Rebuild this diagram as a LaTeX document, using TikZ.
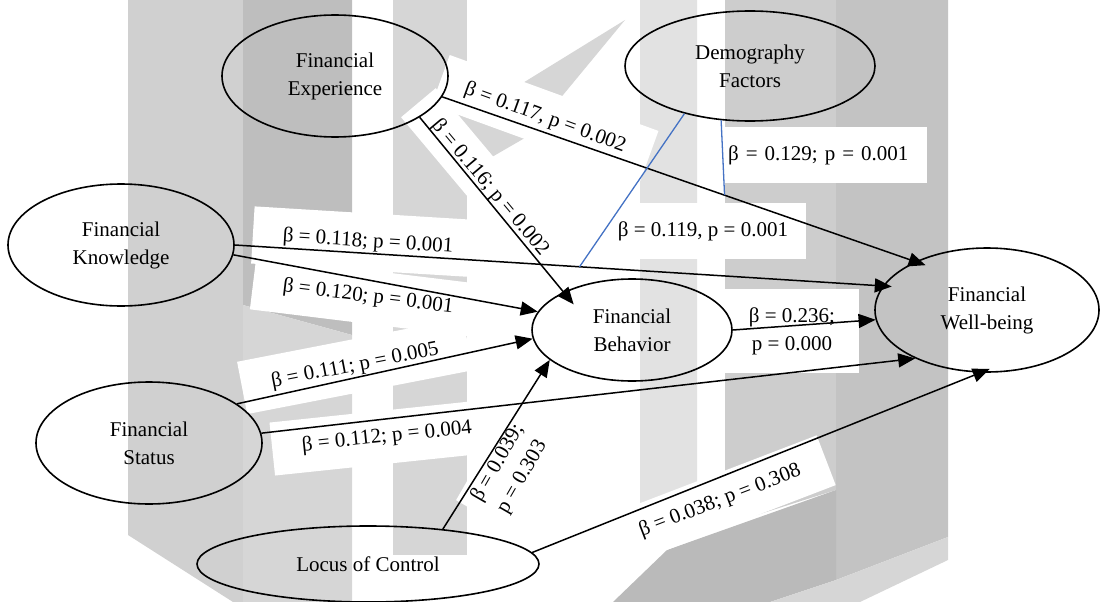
\documentclass[tikz,border=0pt]{standalone}
\usepackage{fontspec}
\setmainfont{Liberation Serif}
\usetikzlibrary{arrows.meta,shapes.geometric}
\definecolor{bluel}{HTML}{4472C4}
\definecolor{gA}{HTML}{D0D0D0}
\definecolor{gB}{HTML}{BEBEBE}
\definecolor{gC}{HTML}{D6D6D6}
\definecolor{gD}{HTML}{E2E2E2}
\definecolor{gE}{HTML}{CDCDCD}
\definecolor{gF}{HTML}{C3C3C3}
\definecolor{gG}{HTML}{BABABA}
\newcommand{\diagfont}{\fontsize{21}{28}\selectfont}
\begin{document}
\begin{tikzpicture}[x=1pt,y=-1pt,
  ell/.style={ellipse, draw=black, line width=1.6pt, inner sep=0pt, align=center, font=\diagfont},
  lab/.style={fill=white, inner xsep=26pt, inner ysep=17pt, font=\diagfont, align=center},
  arr/.style={line width=1.5pt, -{Triangle[length=17pt,width=14pt]}},
  blu/.style={line width=1.3pt, draw=bluel}]
\useasboundingbox (0,0) rectangle (1101,602);
% ---- watermark background ----
\fill[gA] (128,0) -- (243,0) -- (243,602) -- (233,602) -- (128,535) -- cycle;
\fill[gB] (243,0) -- (352,0) -- (352,335) -- (243,305) -- cycle;
\fill[gC] (243,305) -- (352,335) -- (352,602) -- (243,602) -- cycle;
\fill[gC] (393,0) -- (467,0) -- (467,555) -- (393,555) -- cycle;
\fill[gC] (625,20) -- (466,118) -- (466,172) -- (530,135) -- cycle;
\fill[gD] (640,0) -- (697,0) -- (697,500) -- (640,520) -- cycle;
\fill[gE] (725,0) -- (836,0) -- (836,490) -- (725,525) -- cycle;
\fill[gF] (836,0) -- (948,0) -- (948,537) -- (836,580) -- cycle;
\fill[gG] (613,602) -- (667,550) -- (836,490) -- (836,580) -- (770,602) -- cycle;
\fill[gC] (770,602) -- (836,580) -- (948,537) -- (948,560) -- (860,602) -- cycle;
% ---- labels ----
\node[lab, rotate=-20] (l1) at (545,118) {β = 0.117, p = 0.002};
\node[lab, rotate=-50, inner ysep=13pt] (l2) at (490,188) {β = 0.116; p = 0.002};
\node[lab, rotate=-3.5, inner xsep=30pt, inner ysep=19pt] (l3) at (368,242) {β = 0.118; p = 0.001};
\node[lab, rotate=-7, inner xsep=30pt] (l4) at (368,297) {β = 0.120; p = 0.001};
\node[lab, rotate=11, inner xsep=30pt] (l5) at (355,366) {β = 0.111; p = 0.005};
\node[lab, rotate=6, inner xsep=30pt] (l6) at (387,437) {β = 0.112; p = 0.004};
\node[lab, rotate=60, inner xsep=10pt, inner ysep=8pt] (l7) at (510,470) {β = 0.039;\\ p = 0.303};
\node[lab, rotate=21, inner xsep=28pt] (l8) at (720,501) {β = 0.038; p = 0.308};
\node[lab, inner sep=0pt, minimum width=134pt, minimum height=84pt] (l9) at (792,331) {β = 0.236;\\ p = 0.000};
\node[lab, anchor=west, align=left, text width=194pt, inner xsep=5pt, inner ysep=0pt, minimum height=56pt] (l10) at (723,155) {β = 0.129; p = 0.001};
\node[lab, inner sep=0pt, minimum width=206pt, minimum height=56pt] (l11) at (703,231) {β = 0.119, p = 0.001};
% ---- constructs ----
\node[ell, minimum width=226pt, minimum height=122pt] (FE) at (335,76) {Financial\\Experience};
\node[ell, minimum width=250pt, minimum height=110pt] (DF) at (750,66) {Demography\\Factors};
\node[ell, minimum width=226pt, minimum height=122pt] (FK) at (121,245) {Financial\\Knowledge};
\node[ell, minimum width=200pt, minimum height=102pt] (FB) at (632,330) {Financial\\Behavior};
\node[ell, minimum width=224pt, minimum height=124pt] (FW) at (987,310) {Financial\\Well-being};
\node[ell, minimum width=226pt, minimum height=122pt] (FS) at (149,443) {Financial\\Status};
\node[ell, minimum width=342pt, minimum height=76pt] (LC) at (368,564) {Locus of Control};
% ---- paths ----
\draw[arr, shorten >=-11pt] (FE.-11.5) -- (FW.146.3) coordinate[pos=0.597] (m1);
\draw[arr, shorten >=-16pt] (FE.-26.8) -- (FB.151.5);
\draw[arr, shorten >=-9pt] (FK.-0.5) -- (FW.167.5) coordinate[pos=0.532] (m3);
\draw[arr] (FK.-5.5) -- (FB.169.2);
\draw[arr] (FS.24.2) -- (FB.-175);
\draw[arr] (FS.5.1) -- (FW.214.3);
\draw[arr] (LC.25.1) -- (FB.200.7);
\draw[arr, shorten >=-10pt] (LC.4.5) -- (FW.264.4);
\draw[arr] (FB.-0.6) -- (FW.185.6);
\draw[blu] (DF.216.3) -- (m3);
\draw[blu] (DF.242.6) -- (m1);
\end{tikzpicture}
\end{document}
